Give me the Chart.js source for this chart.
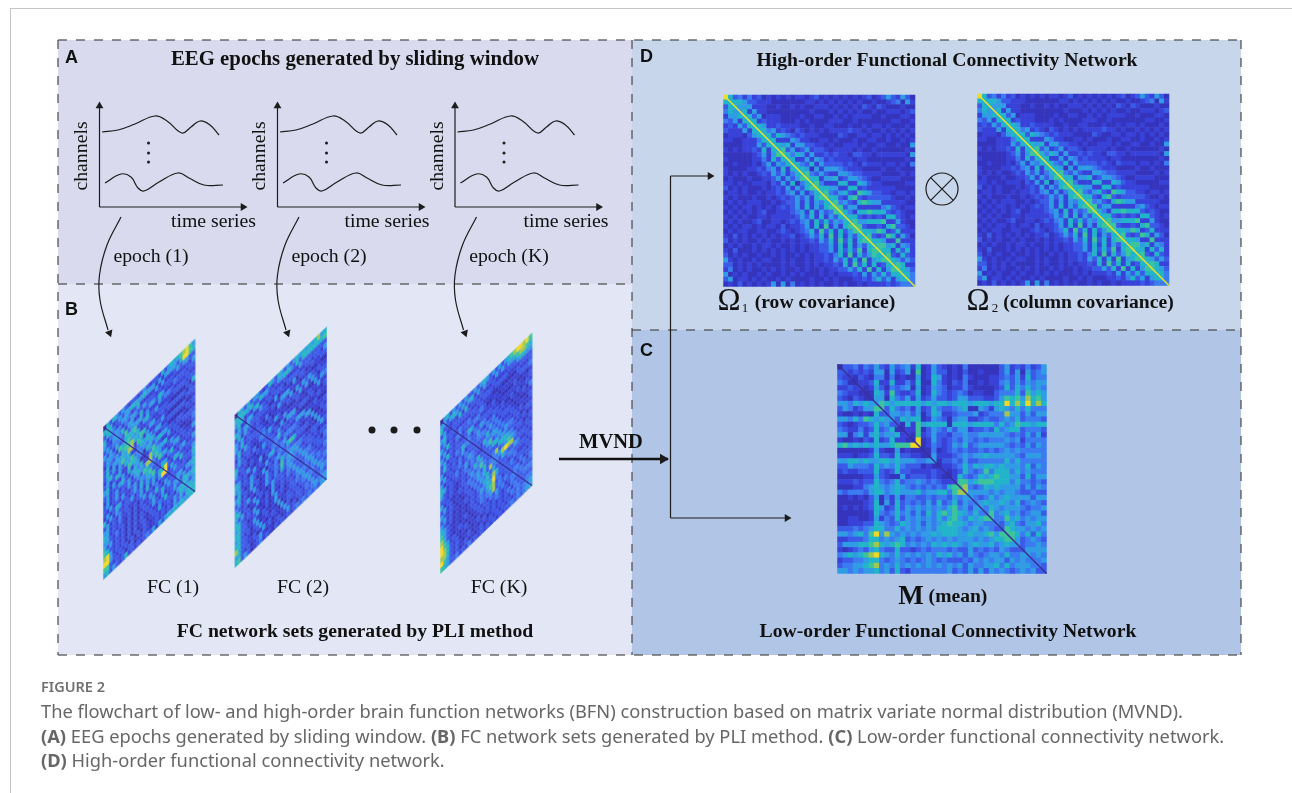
<!DOCTYPE html>
<html>
<head>
<meta charset="utf-8">
<title>Figure 2</title>
<script src="https://cdn.jsdelivr.net/npm/chart.js@4"></script>
<style>
  html, body { margin: 0; padding: 0; background: #fff; }
  body { width: 1292px; height: 793px; position: relative; overflow: hidden; }
  #figure { position: absolute; left: 0; top: 0; }
  .rule-top { position: absolute; left: 10px; right: 0; top: 8px; height: 1px; background: #c4c4c4; }
  .rule-left { position: absolute; left: 10px; top: 8px; bottom: 0; width: 1px; background: #c4c4c4; }
  #caption { position: absolute; left: 41px; top: 0; color: #666; font-family: "Noto Sans", sans-serif; white-space: nowrap; }
  #caption div { position: absolute; left: 0; font-size: 18.3px; line-height: 24px; }
  #caption .fig { font-size: 14.5px; font-weight: 600; top: 674px; color: #707070; }
</style>
</head>
<body>
<div class="rule-top"></div>
<div class="rule-left"></div>
<canvas id="figure" width="1292" height="793"></canvas>
<div id="caption">
  <div class="fig">FIGURE 2</div>
  <div style="top:699px">The flowchart of low- and high-order brain function networks (BFN) construction based on matrix variate normal distribution (MVND).</div>
  <div style="top:724px"><b>(A)</b> EEG epochs generated by sliding window. <b>(B)</b> FC network sets generated by PLI method. <b>(C)</b> Low-order functional connectivity network.</div>
  <div style="top:748px"><b>(D)</b> High-order functional connectivity network.</div>
</div>
<script>
// Labels
const epochLabels = ['epoch (1)', 'epoch (2)', 'epoch (K)'];
const fcLabels = ['FC (1)', 'FC (2)', 'FC (K)'];

// EEG traces, the other two are the same shape shifted right
const upperWaveX = [102, 118, 135, 155, 167, 182, 191, 200, 210, 219];
const upperWaveY = [132, 130, 124, 116, 121, 133, 127, 121, 125, 135];
const lowerWaveX = [105, 121, 131, 138, 144, 159, 178, 189, 204, 223];
const lowerWaveY = [183, 174, 177, 188, 191, 182, 173, 178, 185, 185];
const epochArrowX = [121, 107, 99.5, 100, 108];
const epochArrowY = [217, 245, 275, 300, 330];

// Matrices, lower triangle only, one digit per cell (0 low .. 9 high), mirrored when drawn
const omegaRows = [
  '9','69','369','4659','25569','435269','2325369','32225269','122213569','2211222469',
  '11112225369','212122326269','1111112352579','21111122426369','112111213525469',
  '2111122324526269','21212112325352469','121112112235253579','2212112221325261469',
  '31212111212325253679','122121121223245252469','2121112112123235352679',
  '12121222112123352525469','212122121212323526253679','1212121231122234526253479',
  '21212112212222235362625369','121211231122123245263635469','2121221212213122352627252679',
  '12122112211232123462736263579','213121212121223123536272625369',
  '3121211212112121223253627362679','12121121221211212122335262625369',
  '213111212121212121223352636372679','3121211211212112121223246272635769',
  '52121121221121211212232536262725679','331212121111212112121223262736262369',
  '2412121121212112121121223353627262579','51212112121121212111212122232525363669',
  '351221212112121111211212111223246352569','1213121212515141212121121211212222323449'
];
const meanRows = [
  '0','30','320','4310','22320','432210','3213210','55465650','354235570','2112121630',
  '55464765650','321233464530','4322423634610','55145256455620','211213262362210',
  '6756565655677790','11111125211512110','222122363326332210','5566565566565554450',
  '33544436454643331210','232233363236332222320','1111122532115233323210',
  '22232336434634454343220','111224565456543434343670','4344435664565556455664780',
  '11212135142524433434435450','111112361526343435363463540','1212123652363545454546745350',
  '11111126434645353646757654640','112211252436354545464675465670',
  '1122233654346545354567665455440','33343456644645454546666545645430',
  '554564795854545455656665565567570','2233346645456343454545455545456670',
  '35556678656764545465656545655645650','212343564336332343444343353434354330',
  '4565678965464545454656453543455464450','23344566434543434543433343545455354540',
  '344556784546454545454545354455646455540','5545455645363244444445343535354543454530'
];
const fc1Rows = [
  '0','60','360','6240','53250','353440','5352630','35542760','254353670','3625556580',
  '36352575620','256325365740','3523652276640','56252252625510','352335632564620',
  '2523523352565480','35235232523537640','325232522352546730','2523652323526355730',
  '62525323352352535360','352324232223526252590','5523242231313523242320',
  '65232321313132253632530','553242313131232352363530','6352323131313232532523350',
  '76323231313132132243623530','895232313131231232523332560','9953232313131321232323253650',
  '77323231331223212323232535360','563532362323234352535656565560'
];
const fc2Rows = [
  '0','60','560','3620','65350','362530','5352320','53623330','362532230','2523321240',
  '35323241230','632312132530','5232132123230','33235212513240','652312523125630',
  '5523253212523240','36312531251324530','562325231252342640','3523125212532437350',
  '53235213125324263540','662312523212533324530','5352312521315223243530',
  '66323252123152132323530','563312352131252312324540','6633225213212522123343530',
  '56323135123121512323234540','663321235212321513323233530','8633223125231212531233243530',
  '56323123521212312523132334540','673531234232132323234343434350'
];
const fcKRows = [
  '0','50','630','3520','56330','352320','5363240','35232320','536323330','3523243640',
  '36323235230','523232424330','3523234235430','52323423534320','652323234243630',
  '5323212324364530','33232123235347430','523212323434536340','3523121232435463840',
  '53232121232435463530','352312123232435648630','5323121212323546594330',
  '65321212123234357834230','753212123123243458343430','8632123212123232435342340',
  '97523212312123232343232430','986323121212312323232342430','8863232123121231232323243430',
  '97532312312123123232323234340','765334232423232323232334343450'
];

// parula style ramp used by all the matrices
const levelColors = ['#3328a0', '#3434bc', '#3842d8', '#3a5ae8', '#3a7cf0', '#2f9ce4', '#22b4c8', '#3cc49a', '#a0c850', '#f2d826'];
const INK = '#1c1c1c';

function fullMatrix(rows) {
  const n = rows.length;
  const m = [];
  for (let i = 0; i < n; i++) {
    m.push([]);
    for (let j = 0; j < n; j++) {
      const hi = Math.max(i, j), lo = Math.min(i, j);
      const ch = rows[hi][lo];
      m[i].push(ch === undefined ? 2 : Number(ch));
    }
  }
  // the diagonal is much thinner than a cell, it gets its own line on top
  for (let i = 1; i < n; i++) m[i][i] = m[i][i - 1];
  return m;
}

const layers = [];

function band(x0, x1, yTop, yBottom, color) {
  layers.push({
    showLine: true, data: [{ x: x0, y: yTop }, { x: x1, y: yTop }],
    fill: { target: { value: yBottom } }, backgroundColor: color,
    borderWidth: 0, pointRadius: 0
  });
}

function stroke(xs, ys, opts = {}) {
  layers.push({
    showLine: true, data: xs.map((x, i) => ({ x, y: ys[i] })),
    borderColor: opts.color || INK, borderWidth: opts.width || 1.2,
    borderDash: opts.dash || [], tension: opts.tension || 0,
    fill: false, pointRadius: 0
  });
}

function marks(xs, ys, opts) {
  layers.push({
    showLine: false, data: xs.map((x, i) => ({ x, y: ys[i] })),
    pointStyle: opts.style || 'circle', pointRadius: opts.radius,
    pointRotation: opts.rotation || 0,
    pointBackgroundColor: opts.fill === undefined ? INK : opts.fill,
    pointBorderColor: opts.border || INK, pointBorderWidth: opts.borderWidth || 0
  });
}

function arrowHead(x, y, rotation, radius = 4.5) {
  marks([x], [y], { style: 'triangle', rotation, radius });
}

// square matrix as one scatter dataset of rect points
function squareMap(rows, left, top, size, diagColor, diagWidth) {
  const m = fullMatrix(rows);
  const n = m.length, cell = size / n;
  const data = [], colors = [];
  m.forEach((row, i) => row.forEach((v, j) => {
    data.push({ x: left + (j + 0.5) * cell, y: top + (i + 0.5) * cell });
    colors.push(levelColors[v]);
  }));
  layers.push({
    showLine: false, data, pointStyle: 'rect',
    pointRadius: (cell + 0.5) / Math.SQRT2,
    pointBackgroundColor: colors, pointBorderWidth: 0
  });
  stroke([left, left + size], [top, top + size], { color: diagColor, width: diagWidth });
}

// one little parallelogram canvas per colour level, used as the point style of the skewed maps
function skewSprites(ux, uy, vy) {
  return levelColors.map(color => {
    const c = document.createElement('canvas');
    c.width = Math.ceil(ux) + 2;
    c.height = Math.ceil(Math.abs(uy) + vy) + 2;
    const g = c.getContext('2d');
    g.translate(c.width / 2, c.height / 2);
    g.beginPath();
    g.moveTo(-ux / 2, -uy / 2 - vy / 2);
    g.lineTo(ux / 2, uy / 2 - vy / 2);
    g.lineTo(ux / 2, uy / 2 + vy / 2);
    g.lineTo(-ux / 2, -uy / 2 + vy / 2);
    g.closePath();
    g.fillStyle = color;
    g.strokeStyle = color;
    g.lineWidth = 0.5;
    g.fill();
    g.stroke();
    return c;
  });
}

function skewMap(rows, left, topLeftY, width, rise, height) {
  const m = fullMatrix(rows);
  const n = m.length;
  const ux = width / n, uy = -rise / n, vy = height / n;
  const sprites = skewSprites(ux, uy, vy);
  const data = [], styles = [];
  m.forEach((row, i) => row.forEach((v, j) => {
    data.push({ x: left + (j + 0.5) * ux, y: topLeftY + (j + 0.5) * uy + (i + 0.5) * vy });
    styles.push(sprites[v]);
  }));
  layers.push({ showLine: false, data, pointStyle: styles, pointRadius: 4, pointBorderWidth: 0 });
  stroke([left, left + width], [topLeftY, topLeftY - rise + height], { color: '#3a2f96', width: 1.2 });
}

// panels
band(58, 632, 40, 284, '#d9daed');
band(58, 632, 284, 655, '#e3e6f5');
band(632, 1241, 40, 330, '#c8d6ec');
band(632, 1241, 330, 655, '#b1c5e6');

// dashed frame
const DASH = { color: '#4a4a4a', width: 1.2, dash: [9, 9] };
stroke([58, 1241], [40, 40], DASH);
stroke([58, 1241], [655, 655], DASH);
stroke([58, 58], [40, 655], DASH);
stroke([1241, 1241], [40, 655], DASH);
stroke([632, 632], [40, 655], DASH);
stroke([58, 632], [284, 284], DASH);
stroke([632, 1241], [330, 330], DASH);

// panel A: three small axes with two traces and the arrow down to panel B
[0, 178, 355.5].forEach(dx => {
  stroke([99.5 + dx, 99.5 + dx], [207, 106]);
  stroke([99.5 + dx, 245 + dx], [207, 207]);
  arrowHead(99.5 + dx, 106, 0);
  arrowHead(243 + dx, 207, 90);
  stroke(upperWaveX.map(x => x + dx), upperWaveY, { tension: 0.4 });
  stroke(lowerWaveX.map(x => x + dx), lowerWaveY, { tension: 0.4 });
  marks([148.5 + dx, 148.5 + dx, 148.5 + dx], [143, 153, 162], { radius: 1.5 });
  stroke(epochArrowX.map(x => x + dx), epochArrowY, { tension: 0.4 });
  arrowHead(109.5 + dx, 333, 160);
});

// panel B
skewMap(fc1Rows, 103.5, 427, 91.5, 88, 152.5);
skewMap(fc2Rows, 235, 415, 91.5, 88, 152.5);
skewMap(fcKRows, 440.5, 421, 91.5, 88, 152.5);
marks([372, 394, 417], [430, 430, 430], { radius: 3.5 });

// connectors
stroke([559, 668], [459, 459], { width: 2.4, color: '#111' });
arrowHead(663, 459, 90, 6);
stroke([670.5, 670.5], [176, 518]);
stroke([670.5, 710], [176, 176]);
stroke([670.5, 786], [518, 518]);
arrowHead(710, 176, 90);
arrowHead(787, 518, 90);

// panels C and D
squareMap(omegaRows, 723.5, 95, 191.5, '#e6e02c', 1.6);
squareMap(omegaRows, 977.5, 94, 191.5, '#e6e02c', 1.6);
squareMap(meanRows, 837.5, 364.5, 209, '#3a3098', 1.6);
marks([942], [189], { radius: 16, fill: 'rgba(0,0,0,0)', borderWidth: 1.2 });
marks([942], [189], { style: 'crossRot', radius: 16, fill: 'rgba(0,0,0,0)', borderWidth: 1.2 });

// every text of the figure, placed through the scales
const SERIF = '"Liberation Serif", serif';
const SANS = '"Liberation Sans", sans-serif';
const plainFont = `19.8px ${SERIF}`;
const titleFont = `bold 19.7px ${SERIF}`;
const noteFont = `bold 19.6px ${SERIF}`;
const texts = [
  { t: 'A', x: 65, y: 58, font: `bold 18px ${SANS}`, align: 'left' },
  { t: 'B', x: 65, y: 310, font: `bold 18px ${SANS}`, align: 'left' },
  { t: 'C', x: 640, y: 351, font: `bold 18px ${SANS}`, align: 'left' },
  { t: 'D', x: 640, y: 57, font: `bold 18px ${SANS}`, align: 'left' },
  { t: 'EEG epochs generated by sliding window', x: 355, y: 60, font: `bold 20.8px ${SERIF}` },
  { t: 'FC network sets generated by PLI method', x: 355, y: 632, font: titleFont },
  { t: 'High-order Functional Connectivity Network', x: 947, y: 61, font: titleFont },
  { t: 'Low-order Functional Connectivity Network', x: 948, y: 632, font: titleFont },
  { t: 'MVND', x: 611, y: 443, font: `bold 20.5px ${SERIF}` },
  { t: '(row covariance)', x: 825, y: 303, font: noteFont },
  { t: '(column covariance)', x: 1088.5, y: 303, font: noteFont },
  { t: 'Ω', x: 729, y: 302, font: `31px ${SERIF}` },
  { t: '1', x: 745, y: 309, font: `13px ${SERIF}` },
  { t: 'Ω', x: 978, y: 302, font: `31px ${SERIF}` },
  { t: '2', x: 995, y: 309, font: `13px ${SERIF}` },
  { t: 'M', x: 911, y: 597, font: `bold 27px ${SERIF}` },
  { t: '(mean)', x: 958, y: 597, font: noteFont }
];
[0, 178, 355.5].forEach((dx, i) => {
  texts.push({ t: 'channels', x: 82 + dx, y: 156, font: plainFont, rotation: -90 });
  texts.push({ t: 'time series', x: [213.5, 387, 566][i], y: 222, font: plainFont });
  texts.push({ t: epochLabels[i], x: [151, 329, 509][i], y: 257, font: plainFont });
});
fcLabels.forEach((label, i) => {
  texts.push({ t: label, x: [173, 303, 499][i], y: 588, font: plainFont });
});

const textPlugin = {
  id: 'figureText',
  afterDatasetsDraw(chart) {
    const { ctx, scales } = chart;
    texts.forEach(item => {
      ctx.save();
      ctx.translate(scales.x.getPixelForValue(item.x), scales.y.getPixelForValue(item.y));
      if (item.rotation) ctx.rotate(item.rotation * Math.PI / 180);
      ctx.font = item.font;
      ctx.fillStyle = '#111';
      ctx.textAlign = item.align || 'center';
      ctx.textBaseline = 'middle';
      ctx.fillText(item.t, 0, 0);
      ctx.restore();
    });
  }
};

// chart draws the last order first, so earlier layers get a higher order
layers.forEach((layer, i) => { layer.order = layers.length - i; });

new Chart(document.getElementById('figure'), {
  type: 'scatter',
  data: { datasets: layers },
  options: {
    responsive: false,
    animation: false,
    events: [],
    layout: { padding: 0, autoPadding: false },
    plugins: { legend: { display: false }, tooltip: { enabled: false } },
    scales: {
      x: { type: 'linear', min: 0, max: 1292, display: false },
      y: { type: 'linear', min: 0, max: 793, reverse: true, display: false }
    }
  },
  plugins: [textPlugin]
});
</script>
</body>
</html>
